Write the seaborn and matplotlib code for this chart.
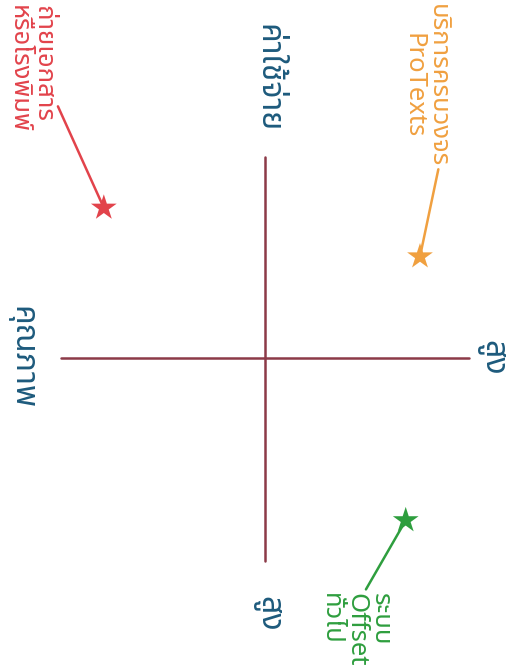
import matplotlib
matplotlib.use("Agg")
import matplotlib.pyplot as plt
import seaborn as sns
import pandas as pd

# services positioned by quality (left -> right) and cost (top -> bottom)
services = ["ถ่ายเอกสาร\nหรือโรงพิมพ์", "บริการครบวงจร\nProTexts", "ระบบ\nOffset\nทั่วไป"]
quality = [-7.9, 7.6, 6.9]
cost = [-7.4, -5.0, 8.0]
colors = ["#e2434b", "#f0a040", "#2e9e3e"]

axis_titles = ["คุณภาพ", "ค่าใช้จ่าย"]
high_label = "สูง"

df = pd.DataFrame({"service": services, "quality": quality, "cost": cost})

sns.set_style("white")
plt.rcParams["font.family"] = ["Noto Sans Thai", "Loma", "Garuda", "Sarabun", "DejaVu Sans"]

fig = plt.figure(figsize=(5.23, 6.71), dpi=100)
ax = fig.add_axes([0, 0, 1, 1])

blue = "#1d5a7c"
cross = "#8c3a48"

# the quadrant cross
ax.plot([-10, 10], [0, 0], color=cross, lw=1.8, zorder=1)
ax.plot([0, 0], [-9.9, 10], color=cross, lw=1.8, zorder=1)

# leader lines from label to star
line_start = [(-10.15, -12.4), (8.5, -9.3), (4.95, 11.4)]
for (lx, ly), q, c, col in zip(line_start, quality, cost, colors):
    ax.plot([lx, q], [ly, c], color=col, lw=1.8, zorder=2)

sns.scatterplot(data=df, x="quality", y="cost", hue="service", palette=colors,
                marker="*", s=380, edgecolor="none", legend=False, ax=ax, zorder=3)

# service labels (rotated like the rest of the chart)
text_pos = [(-11.5, -17.4, "left"), (7.85, -13.4, "center"), (4.45, 11.6, "left")]
for (tx, ty, ha), name, col in zip(text_pos, services, colors):
    ax.text(tx, ty, name, color=col, fontsize=18.5, rotation=-90,
            rotation_mode="anchor", ha=ha, va="center", multialignment=ha,
            linespacing=1.0)

# axis titles
title_kw = dict(color=blue, fontsize=23, fontweight="bold", rotation=-90,
                rotation_mode="anchor", ha="center", va="center")
ax.text(-11.9, 0, axis_titles[0], **title_kw)
ax.text(0.15, -13.8, axis_titles[1], **title_kw)
ax.text(11.1, 0, high_label, **title_kw)
ax.text(0.15, 12.6, high_label, **title_kw)

ax.set_xlim(-12.99, 12.65)
ax.set_ylim(15.42, -17.64)
ax.set_xticks([])
ax.set_yticks([])
ax.set_xlabel("")
ax.set_ylabel("")
sns.despine(ax=ax, left=True, bottom=True)

fig.savefig("out.png", dpi=100)
